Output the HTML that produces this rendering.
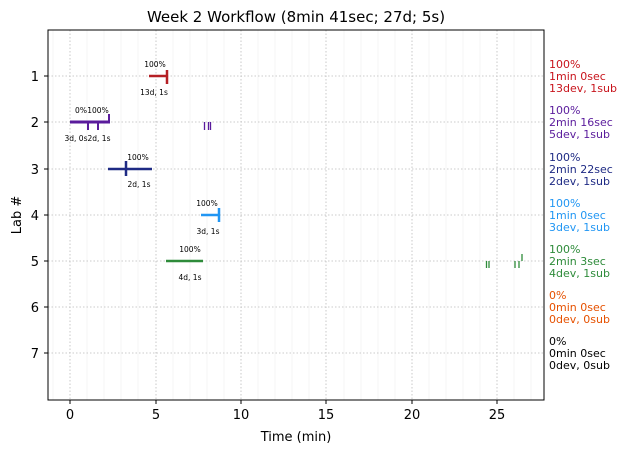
<!DOCTYPE html>
<html><head><style>body{margin:0;background:#fff}svg{display:block;font-family:"DejaVu Sans","Liberation Sans",sans-serif}</style></head>
<body>
<svg width="627" height="453" viewBox="0 0 627 453" xmlns="http://www.w3.org/2000/svg">
<rect width="627" height="453" fill="#fff"/>
<g stroke="#f3f3f3" stroke-width="0.8">
<line x1="53" y1="30" x2="53" y2="400"/><line x1="87" y1="30" x2="87" y2="400"/><line x1="104" y1="30" x2="104" y2="400"/><line x1="121" y1="30" x2="121" y2="400"/><line x1="138" y1="30" x2="138" y2="400"/><line x1="173" y1="30" x2="173" y2="400"/><line x1="190" y1="30" x2="190" y2="400"/><line x1="207" y1="30" x2="207" y2="400"/><line x1="224" y1="30" x2="224" y2="400"/><line x1="258" y1="30" x2="258" y2="400"/><line x1="275" y1="30" x2="275" y2="400"/><line x1="292" y1="30" x2="292" y2="400"/><line x1="309" y1="30" x2="309" y2="400"/><line x1="344" y1="30" x2="344" y2="400"/><line x1="361" y1="30" x2="361" y2="400"/><line x1="378" y1="30" x2="378" y2="400"/><line x1="395" y1="30" x2="395" y2="400"/><line x1="429" y1="30" x2="429" y2="400"/><line x1="446" y1="30" x2="446" y2="400"/><line x1="463" y1="30" x2="463" y2="400"/><line x1="480" y1="30" x2="480" y2="400"/><line x1="514" y1="30" x2="514" y2="400"/><line x1="531" y1="30" x2="531" y2="400"/>
</g>
<g stroke="#bbb" stroke-width="0.8" stroke-dasharray="1.5,2">
<line x1="70" y1="30" x2="70" y2="400"/><line x1="156" y1="30" x2="156" y2="400"/><line x1="241" y1="30" x2="241" y2="400"/><line x1="326" y1="30" x2="326" y2="400"/><line x1="412" y1="30" x2="412" y2="400"/><line x1="497" y1="30" x2="497" y2="400"/>
<line x1="48" y1="76" x2="544" y2="76"/><line x1="48" y1="122" x2="544" y2="122"/><line x1="48" y1="169" x2="544" y2="169"/><line x1="48" y1="215" x2="544" y2="215"/><line x1="48" y1="261" x2="544" y2="261"/><line x1="48" y1="307" x2="544" y2="307"/><line x1="48" y1="353" x2="544" y2="353"/>
</g>
<rect x="48" y="30" width="496" height="370" fill="none" stroke="#000" stroke-width="1"/>
<g stroke="#000"><line x1="70" y1="400" x2="70" y2="404"/><line x1="156" y1="400" x2="156" y2="404"/><line x1="241" y1="400" x2="241" y2="404"/><line x1="326" y1="400" x2="326" y2="404"/><line x1="412" y1="400" x2="412" y2="404"/><line x1="497" y1="400" x2="497" y2="404"/>
<line x1="44" y1="76" x2="48" y2="76"/><line x1="44" y1="122" x2="48" y2="122"/><line x1="44" y1="169" x2="48" y2="169"/><line x1="44" y1="215" x2="48" y2="215"/><line x1="44" y1="261" x2="48" y2="261"/><line x1="44" y1="307" x2="48" y2="307"/><line x1="44" y1="353" x2="48" y2="353"/></g>
<g font-size="13" text-anchor="middle" fill="#000"><text x="70" y="419">0</text><text x="156" y="419">5</text><text x="241" y="419">10</text><text x="326" y="419">15</text><text x="412" y="419">20</text><text x="497" y="419">25</text></g>
<g font-size="13" text-anchor="end" fill="#000"><text x="39" y="81">1</text><text x="39" y="127">2</text><text x="39" y="174">3</text><text x="39" y="220">4</text><text x="39" y="266">5</text><text x="39" y="312">6</text><text x="39" y="358">7</text></g>
<text x="296" y="441" font-size="13" text-anchor="middle">Time (min)</text>
<text x="21" y="215" font-size="13" text-anchor="middle" transform="rotate(-90 21 215)">Lab #</text>
<text x="296" y="22" font-size="15" text-anchor="middle">Week 2 Workflow (8min 41sec; 27d; 5s)</text>
<g stroke-width="2.5" fill="none">
<path d="M149 76H167M167 70V84" stroke="#b51f24"/>
<path d="M88 122V130M98 122V130M109 114V122" stroke="#5a1b9c" stroke-width="2"/>
<path d="M204.5 122V130M208.5 122V130M210.5 122V130" stroke="#5a1b9c" stroke-width="1.3"/>
<path d="M70 122H110" stroke="#5a1b9c" stroke-width="3"/>
<path d="M108 169H152M126 161V176" stroke="#1e2a84"/>
<path d="M201 215H219M219 208V222" stroke="#2196f3"/>
<path d="M166 261H203" stroke="#2e8b3a"/>
<path d="M486.5 261V268M489 261V268M515 261V268M519 261V268M522 254V261" stroke="#2e8b3a" stroke-width="1.3"/>
</g>
<g font-size="7.5" text-anchor="middle" fill="#000">
<text x="155" y="67">100%</text><text x="154" y="95">13d, 1s</text>
<text x="81" y="113">0%</text><text x="98" y="113">100%</text><text x="76" y="141">3d, 0s</text><text x="99" y="141">2d, 1s</text>
<text x="138" y="160">100%</text><text x="139" y="187">2d, 1s</text>
<text x="207" y="206">100%</text><text x="208" y="234">3d, 1s</text>
<text x="190" y="252">100%</text><text x="190" y="280">4d, 1s</text>
</g>
<g font-size="11">
<g fill="#c8141c"><text x="549" y="68">100%</text><text x="549" y="80">1min 0sec</text><text x="549" y="92">13dev, 1sub</text></g>
<g fill="#5a1b9c"><text x="549" y="114">100%</text><text x="549" y="126">2min 16sec</text><text x="549" y="138">5dev, 1sub</text></g>
<g fill="#1e2a84"><text x="549" y="161">100%</text><text x="549" y="173">2min 22sec</text><text x="549" y="185">2dev, 1sub</text></g>
<g fill="#2196f3"><text x="549" y="207">100%</text><text x="549" y="219">1min 0sec</text><text x="549" y="231">3dev, 1sub</text></g>
<g fill="#2e8b3a"><text x="549" y="253">100%</text><text x="549" y="265">2min 3sec</text><text x="549" y="277">4dev, 1sub</text></g>
<g fill="#e65100"><text x="549" y="299">0%</text><text x="549" y="311">0min 0sec</text><text x="549" y="323">0dev, 0sub</text></g>
<g fill="#000"><text x="549" y="345">0%</text><text x="549" y="357">0min 0sec</text><text x="549" y="369">0dev, 0sub</text></g>
</g>
</svg>
</body></html>
